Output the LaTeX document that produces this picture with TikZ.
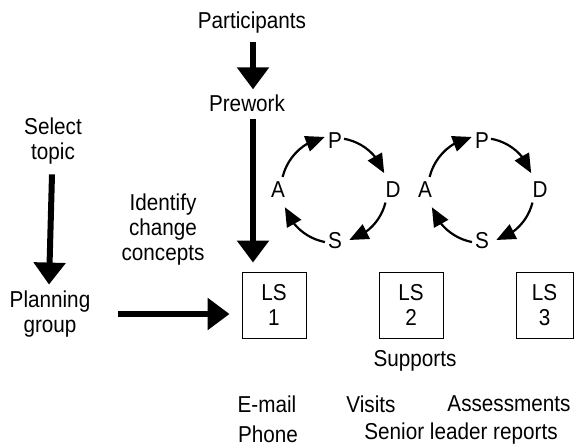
\documentclass[tikz,border=0pt]{standalone}
\usepackage{fontspec}
\setmainfont{Liberation Sans}[FakeStretch=0.9]
\usetikzlibrary{arrows.meta,bending}
\begin{document}
\begin{tikzpicture}[x=1pt,y=-1pt,
  txt/.style={font=\fontsize{23}{25}\selectfont, align=center, inner sep=2pt},
  lsbox/.style={draw, line width=0.9pt, minimum width=64pt, minimum height=66pt, inner sep=0pt, font=\fontsize{23}{25}\selectfont, align=center},
  bigarrow/.style={line width=6pt, -{Triangle[length=22pt 0 0,width=31pt 0 0]}},
  cyc/.style={line width=2.2pt, -{Triangle[length=19pt 0 0,width=16pt 0 0,flex]}},
  lbl/.style={font=\fontsize{23}{25}\selectfont, inner sep=1pt}]
\useasboundingbox (0,0) rectangle (575,447);
\coordinate (colx) at (253,0);
% texts
\node[txt] (part) at (252,23) {Participants};
\node[txt] (prew) at (247,103) {Prework};
\node[txt] (sel) at (53,141) {Select\\topic};
\node[txt] (plan) at (50,314) {Planning\\group};
\node[txt] (idc) at (163,230) {Identify\\change\\concepts};
% boxes
\node[lsbox] (ls1) at (274,305) {LS\\1};
\node[lsbox] (ls2) at (411,305) {LS\\2};
\node[lsbox, minimum width=57pt] (ls3) at (544.5,305) {LS\\3};
% bottom texts
\node[txt] (sup) at (415,361) {Supports};
\node[txt] (email) at (267,404) {E-mail};
\node[txt] (visits) at (371,404) {Visits};
\node[txt] (assess) at (509,404) {Assessments};
\node[txt] (phone) at (268,434) {Phone};
\node[txt] (senior) at (461,434) {Senior leader reports};
% big arrows
\draw[bigarrow] (part.south -| colx) ++(0,6) -- ([yshift=3pt]prew.north -| colx);
\draw[bigarrow] (prew.south -| colx) ++(0,5) -- ([yshift=9pt]ls1.north -| colx);
\draw[bigarrow] (sel.south) ++(-1,8) -- ([yshift=4pt,xshift=-1pt]plan.north);
\draw[bigarrow] (plan.east) ++(26,0) -- ([xshift=-12pt]plan.east -| ls1.west);
% PDSA cycles
\foreach \cx/\nm in {335/a,482/b}{
  \coordinate (c\nm) at (\cx,190);
  \node[lbl] (P\nm) at (\cx,141) {P};
  \node[lbl] (D\nm) at (\cx+58,190) {D};
  \node[lbl] (S\nm) at (\cx,241) {S};
  \node[lbl] (A\nm) at (\cx-57,190) {A};
  \draw[cyc] (c\nm) ++(-166:54) arc[start angle=-166, end angle=-101, radius=54];
  \draw[cyc] (c\nm) ++(-80:52) arc[start angle=-80, end angle=-19, radius=52];
  \draw[cyc] (c\nm) ++(14:52) arc[start angle=14, end angle=74, radius=52];
  \draw[cyc] (c\nm) ++(101:53) arc[start angle=101, end angle=161, radius=53];
}
\end{tikzpicture}
\end{document}
